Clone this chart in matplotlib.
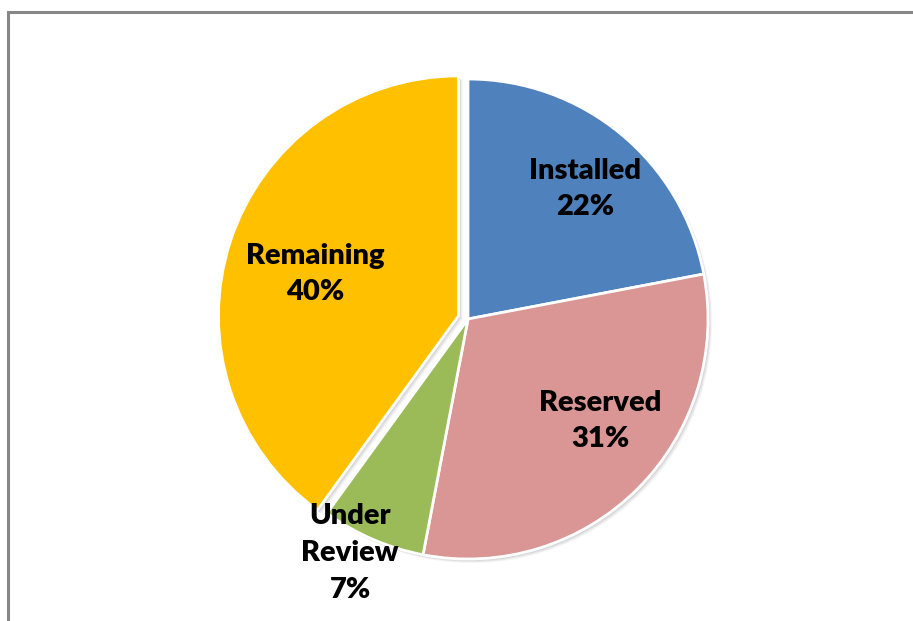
import matplotlib.pyplot as plt
from matplotlib.patches import Rectangle

labels = ["Installed", "Reserved", "Under\nReview", "Remaining"]
shares = [22, 31, 7, 40]
colors = ["#4F81BD", "#D99694", "#9BBB59", "#FFC000"]
explode = [0, 0, 0, 10]

# label anchor points (pixel space, y up), one per slice
label_xy = [(585, 432), (600, 200), (350, 68), (315, 347)]

W, H = 913, 621
fig = plt.figure(figsize=(W / 100, H / 100), dpi=100)
ax = fig.add_axes([0, 0, 1, 1])
ax.set_xlim(0, W)
ax.set_ylim(0, H)
ax.set_aspect("equal")
ax.axis("off")

# chart frame (cut off at right and bottom)
ax.add_patch(Rectangle((8, -20), W + 40, H - 12 + 20, fill=False,
                       edgecolor="#878787", linewidth=2.2))

# soft grey drop shadow: same pie drawn offset underneath
for off, a in [(4, 0.08), (3, 0.12), (2, 0.15)]:
    sh, _ = ax.pie(shares, colors=["#808080"] * len(shares), startangle=90,
                   counterclock=False, explode=explode,
                   center=(468 + off, 302 - off), radius=240,
                   wedgeprops=dict(linewidth=0, alpha=a))

wedges, _ = ax.pie(
    shares, colors=colors, startangle=90, counterclock=False,
    explode=explode, center=(468, 302), radius=240,
    wedgeprops=dict(edgecolor="white", linewidth=2),
)
ax.set_xlim(0, W)
ax.set_ylim(0, H)

for lab, val, (x, y) in zip(labels, shares, label_xy):
    ax.text(x, y, f"{lab}\n{val}%", ha="center", va="center",
            fontsize=21, fontweight="heavy", family=["Lato", "DejaVu Sans"],
            linespacing=1.5, color="black")

fig.savefig("out.png", dpi=100)
